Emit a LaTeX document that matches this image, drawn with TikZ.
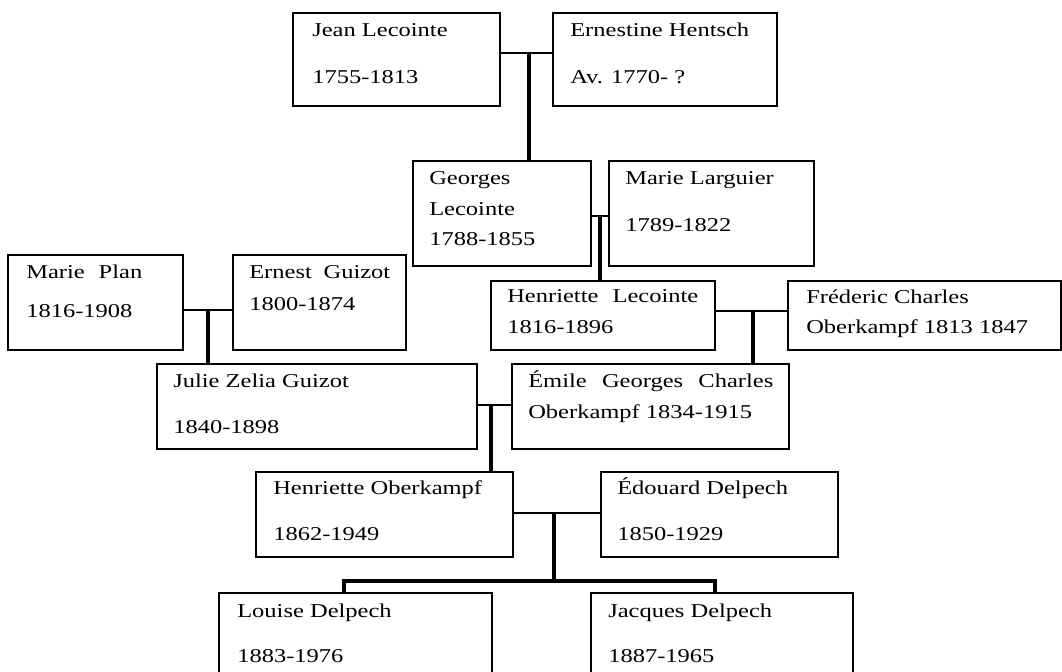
\documentclass[tikz,border=0pt]{standalone}
\usepackage{fontspec}
\setmainfont[FakeStretch=1.25]{Liberation Serif}
\usetikzlibrary{fit}

\begin{document}
\begin{tikzpicture}[x=0.75pt,y=0.75pt,yscale=-1,xscale=1,
  person/.style={draw, line width=0.9pt, inner sep=0pt},
  caption/.style={anchor=base west, inner sep=0pt, font=\fontsize{14.7}{17}\selectfont},
  wed/.style={line width=1.4pt},
  descent/.style={line width=2.3pt}]
\useasboundingbox (0,0) rectangle (1062,671);

%Shape: Rectangle
\node[person, fit={(293,13) (500,106)}] (jean) {};
\node[person, fit={(553,13) (777,106)}] (ernestine) {};
\node[person, fit={(413,161) (591,266)}] (georges) {};
\node[person, fit={(609,161) (814,266)}] (larguier) {};
\node[person, fit={(8,255) (183,350)}] (plan) {};
\node[person, fit={(233,255) (406,350)}] (ernest) {};
\node[person, fit={(491,281) (715,350)}] (henriette) {};
\node[person, fit={(788,281) (1061,350)}] (frederic) {};
\node[person, fit={(157,364) (477,449)}] (julie) {};
\node[person, fit={(512,364) (789,449)}] (emile) {};
\node[person, fit={(256,472) (513,557)}] (henrietteO) {};
\node[person, fit={(601,472) (838,557)}] (edouard) {};
\node[person, fit={(219,593) (492,700)}] (louise) {};
\node[person, fit={(591,593) (853,700)}] (jacques) {};

%Straight Lines
\coordinate (m1) at (529,53);
\draw[wed] (jean.east |- m1) -- (ernestine.west |- m1);
\draw[descent] (m1) -- (georges.north -| m1);

\coordinate (m2) at (600,216);
\draw[wed] (georges.east |- m2) -- (larguier.west |- m2);
\draw[descent] (m2) -- (henriette.north -| m2);

\coordinate (m3) at (208,310);
\draw[wed] (plan.east |- m3) -- (ernest.west |- m3);
\draw[descent] (m3) -- (julie.north -| m3);

\coordinate (m4) at (753,311);
\draw[wed] (henriette.east |- m4) -- (frederic.west |- m4);
\draw[descent] (m4) -- (emile.north -| m4);

\coordinate (m5) at (491,405);
\draw[wed] (julie.east |- m5) -- (emile.west |- m5);
\draw[descent] (m5) -- (henrietteO.north -| m5);

\coordinate (m6) at (554,513);
\draw[wed] (henrietteO.east |- m6) -- (edouard.west |- m6);
\coordinate (kids) at (554,581);
\coordinate (lk) at (344,581);
\coordinate (jk) at (715,581);
\draw[descent] (m6) -- (kids);
\draw[descent] (louise.north -| lk) -- (lk) -- (jk) -- (jacques.north -| jk);

% Text Node
\node[caption] (jean-n) at (312,36) {Jean Lecointe};
\node[caption] (jean-d) at (312,83) {1755-1813};
% Text Node
\node[caption] (ernestine-n) at (570,36) {Ernestine Hentsch};
\node[caption] (ernestine-d) at (570,83) {Av. 1770- ?};
% Text Node
\node[caption] (georges-n) at (429,184) {Georges};
\node[caption] (georges-n2) at (429,215) {Lecointe};
\node[caption] (georges-d) at (429,245) {1788-1855};
% Text Node
\node[caption] (larguier-n) at (625,184) {Marie Larguier};
\node[caption] (larguier-d) at (625,231) {1789-1822};
% Text Node
\node[caption] (plan-n) at (26,278) {\makebox[87pt][s]{Marie Plan}};
\node[caption] (plan-d) at (26,317) {1816-1908};
% Text Node
\node[caption] (ernest-n) at (249,278) {\makebox[105.75pt][s]{Ernest Guizot}};
\node[caption] (ernest-d) at (249,310) {1800-1874};
% Text Node
\node[caption] (julie-n) at (173,387) {Julie Zelia Guizot};
\node[caption] (julie-d) at (173,433) {1840-1898};
% Text Node
\node[caption] (henriette-n) at (507,302) {\makebox[143.25pt][s]{Henriette Lecointe}};
\node[caption] (henriette-d) at (507,333) {1816-1896};
% Text Node
\node[caption] (frederic-n) at (806,303) {Fréderic Charles};
\node[caption] (frederic-d) at (806,333) {Oberkampf 1813 1847};
% Text Node
\node[caption] (emile-n) at (528,387) {\makebox[183.75pt][s]{Émile Georges Charles}};
\node[caption] (emile-d) at (528,418) {Oberkampf 1834-1915};
% Text Node
\node[caption] (henrietteO-n) at (273,494) {Henriette Oberkampf};
\node[caption] (henrietteO-d) at (273,540) {1862-1949};
% Text Node
\node[caption] (edouard-n) at (617,494) {Édouard Delpech};
\node[caption] (edouard-d) at (617,540) {1850-1929};
% Text Node
\node[caption] (louise-n) at (237,617) {Louise Delpech};
\node[caption] (louise-d) at (237,662) {1883-1976};
% Text Node
\node[caption] (jacques-n) at (608,617) {Jacques Delpech};
\node[caption] (jacques-d) at (608,662) {1887-1965};

\end{tikzpicture}
\end{document}
